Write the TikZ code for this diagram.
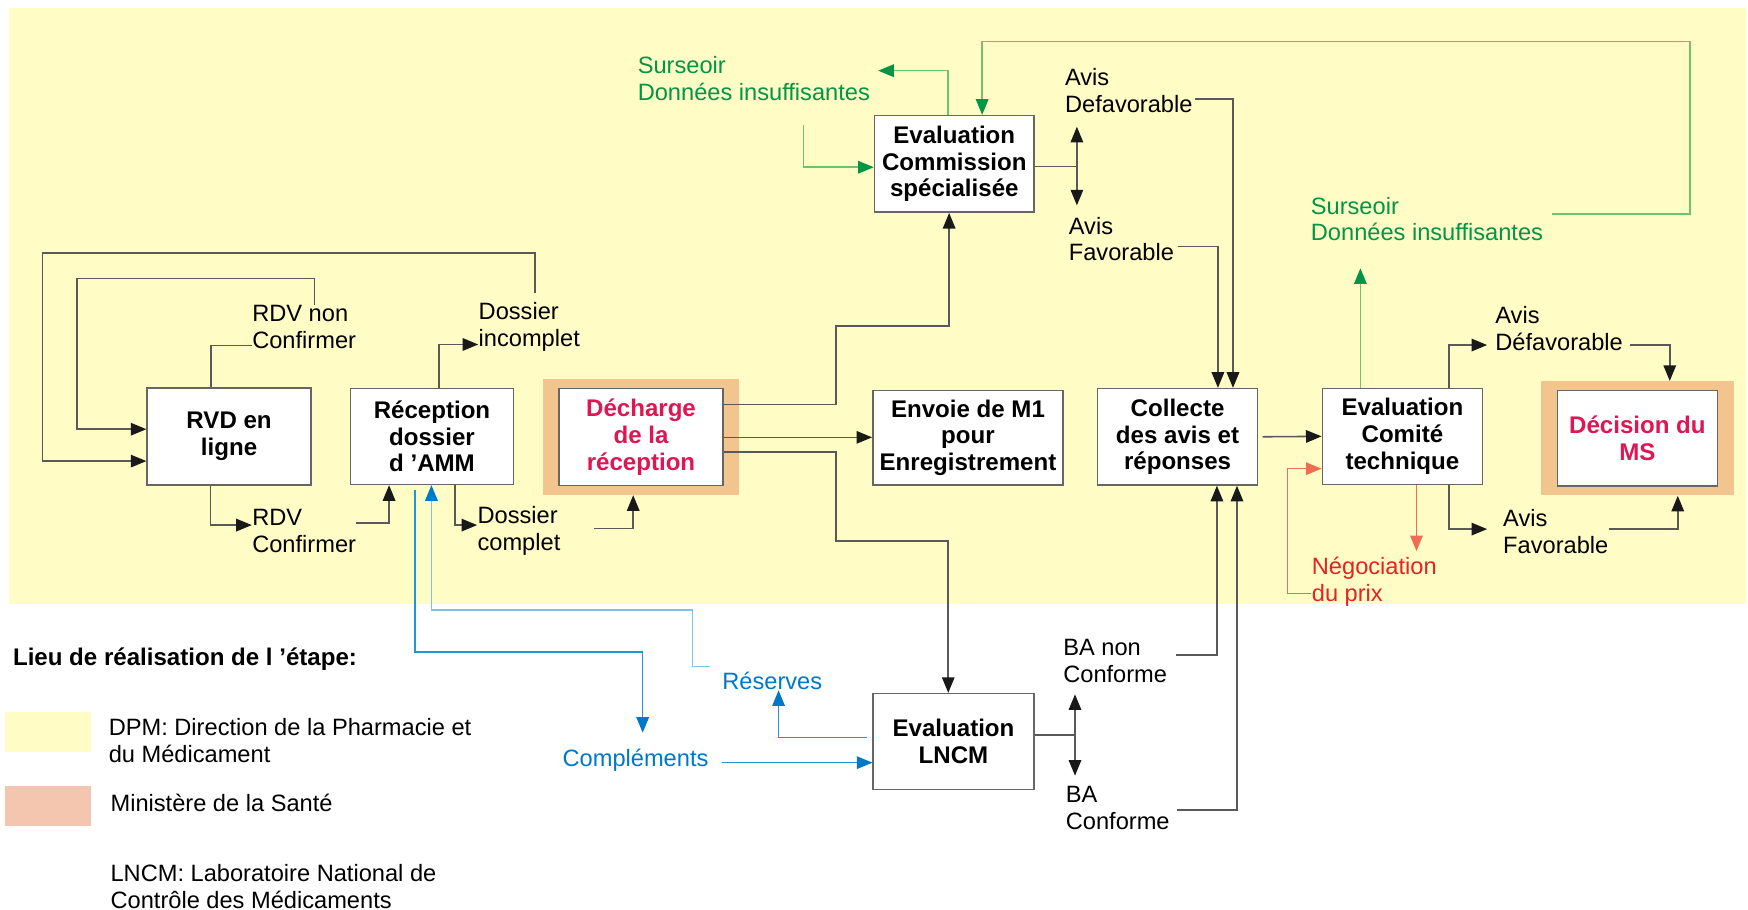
\documentclass[tikz,border=0pt]{standalone}
\usepackage{fontspec}
\setmainfont{Liberation Sans}
\usepackage{tikz}
\usetikzlibrary{calc}
\usetikzlibrary{fit}
\usetikzlibrary{backgrounds}
\usetikzlibrary{arrows.meta}
\definecolor{yel}{RGB}{255,252,197}
\definecolor{orng}{RGB}{242,197,143}
\definecolor{pnk}{RGB}{244,198,176}
\definecolor{crim}{RGB}{222,22,82}
\definecolor{grnT}{RGB}{0,150,70}
\definecolor{grnL}{RGB}{110,195,115}
\definecolor{bluT}{RGB}{0,120,200}
\definecolor{bluL}{RGB}{30,150,215}
\definecolor{bluLL}{RGB}{125,195,232}
\definecolor{redT}{RGB}{228,35,35}
\definecolor{redL}{RGB}{238,110,85}
\tikzset{box/.style={draw=black!60, fill=white, line width=0.7pt, inner sep=0pt, align=center, font=\bfseries\fontsize{10.8}{12}\selectfont}}
\tikzset{lbl/.style={anchor=west, inner sep=0pt, align=left, font=\fontsize{10.6}{12}\selectfont}}
\tikzset{msframe/.style={fill=orng, inner xsep=7pt, inner ysep=3.8pt}}
\tikzset{swatch/.style={minimum width=38.5pt, minimum height=18pt, inner sep=0pt}}
\tikzset{ln/.style={draw=black!65, line width=0.7pt}}
\tikzset{arr/.style={ln, -{Triangle[length=7pt,width=5.6pt,color=black!90]}}}
\tikzset{dbl/.style={ln, {Triangle[length=7pt,width=5.6pt,color=black!90]}-{Triangle[length=7pt,width=5.6pt,color=black!90]}}}
\tikzset{garr/.style={draw=grnL, line width=0.7pt, -{Triangle[length=7pt,width=5.6pt,color=grnT]}}}
\tikzset{barr/.style={draw=bluL, line width=0.7pt, -{Triangle[length=7pt,width=5.6pt,color=bluT]}}}
\tikzset{blarr/.style={draw=bluLL, line width=0.7pt, -{Triangle[length=7pt,width=5.6pt,color=bluT]}}}
\tikzset{rarr/.style={draw=redL, line width=0.7pt, -{Triangle[length=7pt,width=5.6pt,color=redL]}}}

\begin{document}
\begin{tikzpicture}[x=0.5pt,y=-0.5pt]
		\useasboundingbox (0,0) rectangle (1568,816);
		\begin{scope}[on background layer]
			\fill[yel] (8,7) rectangle (1566,541.5);
		\end{scope}
		% etapes
		\node[box, minimum width=73.5pt, minimum height=43.5pt] (V) at (205.5,391.5) {RVD en\\ligne};
		\node[box, minimum width=73pt, minimum height=43pt] (R) at (387.5,391.5) {Réception\\dossier\\d 'AMM};
		\node[box, text=crim, minimum width=73.5pt, minimum height=43.5pt] (D) at (575,392) {Décharge\\de la\\réception};
		\node[box, minimum width=85.3pt, minimum height=42.3pt] (E) at (868.3,392.7) {Envoie de M1\\pour\\Enregistrement};
		\node[box, minimum width=71.5pt, minimum height=43.3pt] (C) at (856,147) {Evaluation\\Commission\\spécialisée};
		\node[box, minimum width=71.7pt, minimum height=43.2pt] (K) at (1056.3,391.8) {Collecte\\des avis et\\réponses};
		\node[box, minimum width=71.8pt, minimum height=43.1pt] (T) at (1258,391.4) {Evaluation\\Comité\\technique};
		\node[box, text=crim, minimum width=71.8pt, minimum height=42.8pt] (M) at (1468.8,393.2) {Décision du\\MS};
		\node[box, minimum width=72pt, minimum height=43pt] (L) at (855.3,665.2) {Evaluation\\LNCM};
		\begin{scope}[on background layer]
			\node[msframe, fit=(D)] (Df) {};
			\node[msframe, fit=(M)] (Mf) {};
		\end{scope}
		% textes
		\node[lbl] (a) at (225.9,293) {RDV non\\Confirmer};
		\node[lbl] (b) at (225.9,476) {RDV\\Confirmer};
		\node[lbl] (c) at (429,293) {Dossier\\incomplet};
		\node[lbl] (d) at (428,476) {Dossier\\complet};
		\node[lbl, text=grnT] (e) at (571.7,70.2) {Surseoir\\Données insuffisantes};
		\node[lbl] (f) at (955,81.5) {Avis\\Defavorable};
		\node[lbl] (g) at (958.4,214.4) {Avis\\Favorable};
		\node[lbl, text=grnT] (h) at (1175.5,196.5) {Surseoir\\Données insuffisantes};
		\node[lbl] (i) at (1341,294.5) {Avis\\Défavorable};
		\node[lbl] (j) at (1348,477) {Avis\\Favorable};
		\node[lbl, text=redT] (k) at (1176.4,521.8) {Négociation\\du prix};
		\node[lbl] (l) at (953.4,593) {BA non\\Conforme};
		\node[lbl] (m) at (955.7,724.6) {BA\\Conforme};
		\node[lbl, text=bluT] (n) at (647.6,610.9) {Réserves};
		\node[lbl, text=bluT] (o) at (504.3,681.7) {Compléments};
		% legende
		\node[lbl, font=\bfseries\fontsize{10.8}{12}\selectfont] (t) at (11.3,591.4) {Lieu de réalisation de l 'étape:};
		\node[swatch, fill=yel] (sy) at (43,656.4) {};
		\node[swatch, fill=pnk] (sp) at (43,723) {};
		\node[lbl] (p) at (97.2,664.1) {DPM: Direction de la Pharmacie et\\du Médicament};
		\node[lbl] (q) at (98.8,720.6) {Ministère de la Santé};
		\node[lbl] (r) at (98.8,795) {LNCM: Laboratoire National de\\Contrôle des Médicaments};
		% RDV et reception
		\draw[ln] (V.north -| 189.5,0) |- (a.west |- 0,310);
		\draw[arr] (a.north -| 282,0) |- (69,250) |- (V.west |- 0,385);
		\draw[arr] ($(c.north -| 480,0)+(0,-8)$) |- (38,227) |- (V.west |- 0,413.6);
		\draw[arr] (R.north -| 394,0) |- (c.west |- 0,309);
		\draw[arr] (V.south -| 189,0) |- (b.west |- 0,471);
		\draw[arr] (b.east |- 0,469) -| (R.south -| 349,0);
		\draw[arr] (R.south -| 408,0) |- (d.west |- 0,471);
		\draw[arr] ($(d.east |- 0,474)+(30,0)$) -| (Df.south -| 568,0);
		% decharge
		\draw[arr] (D.east |- 0,362.7) -| (750,292.4) -| (C.south -| 851.4,0);
		\draw[arr] (D.east |- 0,392.3) -- (E.west |- 0,392.3);
		\draw[arr] (D.east |- 0,405.2) -| (750,485.3) -| (L.north -| 850.6,0);
		% commission
		\coordinate (cj) at (966,149.5);
		\draw[ln] (C.east |- cj) -- (cj);
		\draw[dbl] ($(f.south -| cj)+(0,12)$) -- ($(g.north -| cj)+(0,-10)$);
		\draw[arr] ($(f.east |- 0,88.8)+(2,0)$) -| (K.north -| 1106,0);
		\draw[arr] ($(g.east |- 0,221)+(3,0)$) -| (K.north -| 1092.5,0);
		\draw[garr] (C.north -| 850.6,0) |- ($(e.east |- 0,63.4)+(7,0)$);
		\draw[garr] ($(e.south -| 720.8,0)+(0,22)$) |- (C.west |- 0,150);
		\draw[garr] ($(h.east |- 0,192)+(8,0)$) -| (1515.8,37.4) -| (C.north -| 881,0);
		% collecte et comite
		\draw[arr] ($(K.east)+(4,0)$) -- (T.west);
		\draw[garr] (T.north -| 1220.3,0) -- ($(h.south -| 1220.3,0)+(0,24)$);
		\draw[arr] (T.north -| 1300,0) |- ($(i.west |- 0,309.5)+(-7,0)$);
		\draw[arr] ($(i.east |- 0,309.5)+(6,0)$) -| (Mf.north -| 1497.8,0);
		\draw[arr] (T.south -| 1300,0) |- ($(j.west |- 0,474.6)+(-14,0)$);
		\draw[arr] (j.east |- 0,474.6) -| (Mf.south -| 1505,0);
		\draw[rarr] (T.south -| 1270.6,0) -- ($(k.north -| 1270.6,0)+(0,-5)$);
		\draw[rarr] (k.west |- 0,532.2) -| (1154.8,420.4) -- (T.west |- 0,420.4);
		% LNCM
		\coordinate (lj) at (964.3,659.3);
		\draw[ln] (L.east |- lj) -- (lj);
		\draw[dbl] ($(l.south -| lj)+(0,10)$) -- ($(m.north -| lj)+(0,-9)$);
		\draw[arr] ($(l.east |- 0,587.5)+(8,0)$) -| (K.south -| 1091.6,0);
		\draw[arr] ($(m.east |- 0,726.6)+(6,0)$) -| (K.south -| 1109.6,0);
		\draw[barr] ($(L.west |- 0,661.4)+(-5,0)$) -| (n.south -| 698.4,0);
		\draw[barr] ($(o.east |- 0,684.1)+(12,0)$) -- (L.west |- 0,684.1);
		\draw[barr] ($(R.south -| 372.5,0)+(0,4)$) |- (576.5,585) -- ($(o.north -| 576.5,0)+(0,-14)$);
		\draw[blarr] ($(n.west |- 0,598)+(-11,0)$) -| (621,547) -| (R.south -| 387,0);
	\end{tikzpicture}
\end{document}
